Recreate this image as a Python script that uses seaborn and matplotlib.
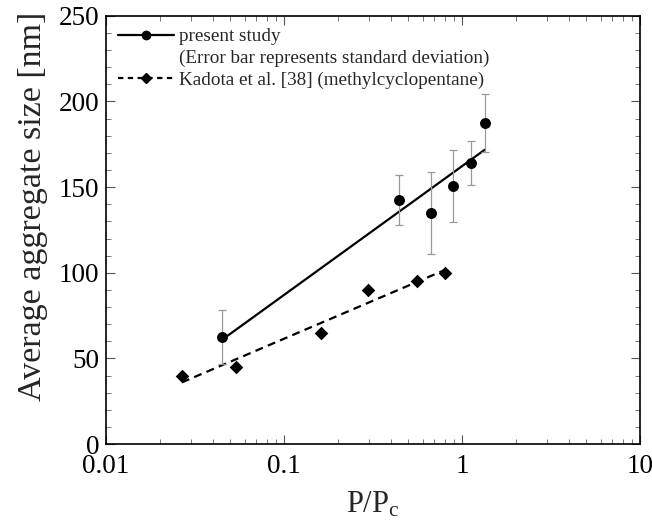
import numpy as np
import pandas as pd
import matplotlib
matplotlib.use("Agg")
import matplotlib.pyplot as plt
from matplotlib.lines import Line2D
from matplotlib.ticker import MultipleLocator, LogLocator, NullFormatter, FixedLocator
import seaborn as sns

# Data
present_x = [0.0446, 0.444, 0.671, 0.893, 1.118, 1.342]
present_y = [62.5, 142.5, 134.7, 150.4, 164.1, 187.6]
present_sd = [16.0, 14.5, 24.0, 21.0, 13.0, 17.0]

kadota_x = [0.0267, 0.0538, 0.161, 0.2955, 0.559, 0.807]
kadota_y = [40.0, 45.0, 65.0, 90.0, 95.0, 100.0]

x_ticks = [0.01, 0.1, 1, 10]
x_ticklabels = ["0.01", "0.1", "1", "10"]
y_ticks = [0, 50, 100, 150, 200, 250]

sns.set_style("ticks")
plt.rcParams["font.family"] = ["Liberation Serif", "DejaVu Serif"]
plt.rcParams["mathtext.fontset"] = "custom"
plt.rcParams["mathtext.rm"] = "Liberation Serif"
plt.rcParams["mathtext.it"] = "Liberation Serif:italic"

df_p = pd.DataFrame({"x": present_x, "y": present_y, "sd": present_sd})
df_k = pd.DataFrame({"x": kadota_x, "y": kadota_y})

fig = plt.figure(figsize=(6.52, 5.28), dpi=100)
ax = fig.add_axes([0.1626, 0.159, 0.819, 0.811])
ax.set_xscale("log")

dash = (0, (3.6, 2.4))
# fitted lines
sns.regplot(data=df_p, x="x", y="y", logx=True, ci=None, scatter=False, ax=ax,
            line_kws=dict(color="black", lw=1.6, ls="-"))
sns.regplot(data=df_k, x="x", y="y", logx=True, ci=None, scatter=False, ax=ax,
            line_kws=dict(color="black", lw=1.6, ls=dash))

# error bars
ax.errorbar(df_p["x"], df_p["y"], yerr=df_p["sd"], fmt="none", ecolor="#999999",
            elinewidth=0.9, capsize=2.6, capthick=0.9, zorder=2)

sns.scatterplot(data=df_p, x="x", y="y", ax=ax, marker="o", s=62, color="black",
                linewidth=0, zorder=4)
sns.scatterplot(data=df_k, x="x", y="y", ax=ax, marker="D", s=48, color="black",
                linewidth=0, zorder=4)

ax.set_xlim(0.01, 10)
ax.set_ylim(0, 250)
ax.xaxis.set_major_locator(FixedLocator(x_ticks))
ax.set_xticklabels(x_ticklabels)
ax.xaxis.set_minor_locator(LogLocator(base=10, subs=np.arange(2, 10)))
ax.xaxis.set_minor_formatter(NullFormatter())
ax.yaxis.set_major_locator(FixedLocator(y_ticks))
ax.yaxis.set_minor_locator(MultipleLocator(10))

ax.tick_params(which="both", direction="in", top=True, right=True, colors="black",
               labelsize=19.5)
ax.tick_params(which="major", length=6.5, width=0.8, color="#555555")
ax.tick_params(axis="x", which="major", pad=7)
ax.tick_params(axis="y", which="major", pad=5)
ax.tick_params(which="minor", length=3.5, width=0.7, color="#777777")
for s in ax.spines.values():
    s.set_linewidth(1.2)
    s.set_color("black")

ax.set_xlabel(r"$\mathregular{P/P_c}$", fontsize=22, labelpad=8)
ax.set_ylabel("Average aggregate size [nm]", fontsize=24.5)
ax.yaxis.set_label_coords(-0.1086, 0.556)

handles = [
    Line2D([], [], color="black", lw=1.6, marker="o", markersize=6),
    Line2D([], [], color="none", lw=0),
    Line2D([], [], color="black", lw=1.6, ls=(0, (2.4, 2.0)), marker="D", markersize=5.5),
]
labels = ["present study", "(Error bar represents standard deviation)",
          "Kadota et al. [38] (methylcyclopentane)"]
ax.legend(handles, labels, loc="upper left", bbox_to_anchor=(0.0225, 0.972), frameon=False,
          fontsize=13.8, handlelength=2.9, handletextpad=0.3, labelspacing=0.22,
          borderaxespad=0.0, borderpad=0.0)

fig.savefig("out.png", dpi=100)
